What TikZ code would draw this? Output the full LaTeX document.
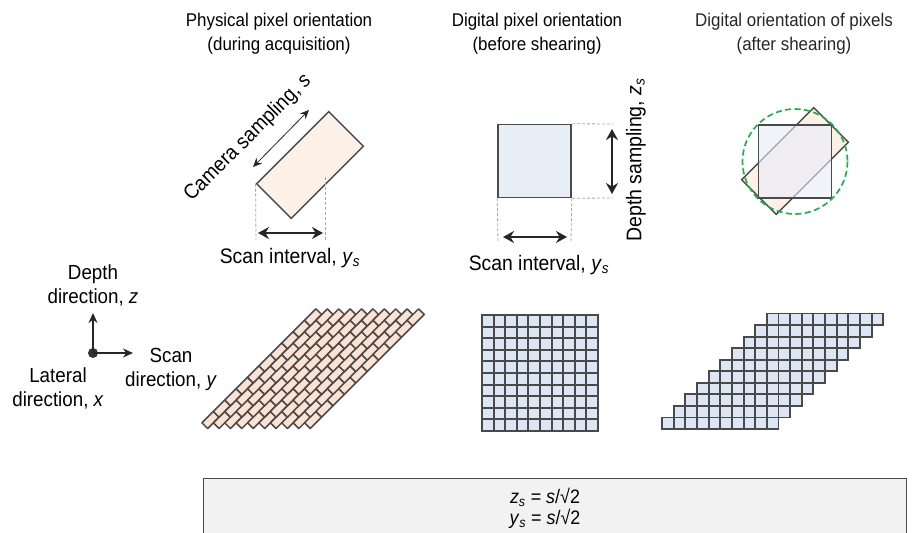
\documentclass[tikz,border=0pt]{standalone}
\usepackage{fontspec}
\setmainfont{Liberation Sans}[FakeStretch=0.92]
\usetikzlibrary{arrows.meta}
\definecolor{edge}{HTML}{4A4A4A}
\definecolor{peach}{HTML}{FBE2D2}
\definecolor{peachlt}{HTML}{FDF0E6}
\definecolor{bluelt}{HTML}{E8EEF8}
\definecolor{gridblue}{HTML}{DCE6F4}
\definecolor{boxgray}{HTML}{F2F2F2}
\definecolor{ringgreen}{HTML}{1FB04E}
\newcommand{\subvar}[2]{\textit{#1}\textsubscript{\textit{#2}}}
\newcommand{\fsz}[1]{\fontsize{#1}{24}\selectfont}

\begin{document}
\begin{tikzpicture}[x=1pt,y=-1pt,
  title/.style={font=\fsz{18.4},align=center},
  lbl/.style={align=center},
  pixbox/.style={draw=edge,line width=1.5pt,inner sep=0pt},
  guide/.style={draw=gray!70,line width=0.8pt,dash pattern=on 3pt off 2pt},
  span/.style={line width=1.6pt,draw=black!85,{Stealth[length=11pt,width=12pt]}-{Stealth[length=11pt,width=12pt]}},
  thinspan/.style={line width=0.8pt,draw=black!85,{Stealth[length=9pt,width=8pt]}-{Stealth[length=9pt,width=8pt]}},
  axis/.style={line width=1.5pt,draw=black!85,-{Stealth[length=10pt,width=9pt]}},
  cell/.style={draw=edge,line width=1.9pt,fill=gridblue},
  brick/.style={draw=edge,line width=1.5pt,fill=peach,line join=round}]
  \useasboundingbox (0,0) rectangle (914,533);

  % column titles
  \node[title] (t1) at (279,34) {Physical pixel orientation\\(during acquisition)};
  \node[title] (t2) at (537,34) {Digital pixel orientation\\(before shearing)};
  \node[title,text=black!85] (t3) at (794,34) {Digital orientation of pixels\\(after shearing)};

  % physical pixel
  \node[pixbox,fill=peachlt,rotate=45,minimum width=102pt,minimum height=49pt] (phys) at (310,165) {};
  \coordinate (pl) at (256,240);
  \coordinate (pr0) at (325,177);
  \coordinate (pr) at (325,240);
  \draw[guide] (phys.north west) -- (pl);
  \draw[guide] (pr0) -- (pr);
  \coordinate (sa) at (258,233);
  \coordinate (sb) at (323,233);
  \draw[span] (sa) -- (sb);
  \coordinate (ca) at (253,167);
  \coordinate (cb) at (309,110);
  \draw[thinspan] (ca) -- (cb);
  \node[lbl,font=\fsz{20.8},rotate=45] (cam) at (248,138) {Camera sampling, \textit{s}};
  \node[lbl,font=\fsz{21}] (scan1) at (290,258) {Scan interval, \subvar{y}{s}};

  % digital pixel
  \node[pixbox,fill=bluelt,minimum size=73pt] (dig) at (534.5,161) {};
  \coordinate (hr1) at (613,124);
  \coordinate (hr2) at (613,198);
  \coordinate (vl) at (498,242);
  \coordinate (vr) at (571,242);
  \draw[guide] (dig.north east) -- (hr1);
  \draw[guide] (dig.south east) -- (hr2);
  \draw[guide] (dig.south west) -- (vl);
  \draw[guide] (dig.south east) -- (vr);
  \coordinate (da) at (612,129);
  \coordinate (db) at (612,194);
  \draw[span] (da) -- (db);
  \coordinate (ha) at (503,237);
  \coordinate (hb) at (567,237);
  \draw[span] (ha) -- (hb);
  \node[lbl,font=\fsz{21}] (scan2) at (539,265) {Scan interval, \subvar{y}{s}};
  \node[lbl,font=\fsz{21.2},rotate=90] (depth) at (636,160) {Depth sampling, \subvar{z}{s}};

  % sheared pixel
  \node[pixbox,fill=peachlt,rotate=45,minimum width=102pt,minimum height=49pt] (rot3) at (795,161) {};
  \node[pixbox,fill=bluelt,fill opacity=0.6,minimum size=73pt] (sq3) at (795,161.5) {};
  \draw[ringgreen,line width=1.7pt,dash pattern=on 6pt off 3.5pt] (795,161.5) circle[radius=52.5];

  % axes
  \node[circle,fill=black!80,inner sep=0pt,minimum size=10pt] (orig) at (93,353) {};
  \coordinate (zend) at (93,313);
  \coordinate (yend) at (133,353);
  \draw[axis] (orig.center) -- (zend);
  \draw[axis] (orig.center) -- (yend);
  \node[lbl,font=\fsz{20.4}] (zlab) at (93,285) {Depth\\direction, \textit{z}};
  \node[lbl,font=\fsz{20.4}] (xlab) at (58,388) {Lateral\\direction, \textit{x}};
  \node[lbl,font=\fsz{20.4}] (ylab) at (171,369) {Scan\\direction, \textit{y}};

  % physical pixel array
  \foreach \i in {0,...,9}
    \foreach \j in {0,...,9}
      \draw[brick] (210.5+11.4*\i+11.4*\j-8.55, 420-11.4*\i+2.85) -- ++(5.7,5.7) -- ++(11.4,-11.4) -- ++(-5.7,-5.7) -- cycle;

  % digital grid
  \foreach \r in {0,...,9}
    \foreach \c in {0,...,9}
      \draw[cell] (482+11.6*\c, 431-11.6*\r) rectangle ++(11.6,-11.6);

  % sheared grid
  \foreach \r in {0,...,9}
    \foreach \c in {0,...,9}
      \draw[cell] (662+11.65*\c+11.65*\r, 429-11.55*\r) rectangle ++(11.6,-11.55);

  % relations
  \draw[draw=edge,fill=boxgray,line width=1pt] (203,478) rectangle (906,545);
  \node[lbl,font=\fontsize{19.5}{21}\selectfont] (eqs) at (545,508) {\subvar{z}{s} = \textit{s}/√2\\\subvar{y}{s} = \textit{s}/√2};
\end{tikzpicture}
\end{document}
